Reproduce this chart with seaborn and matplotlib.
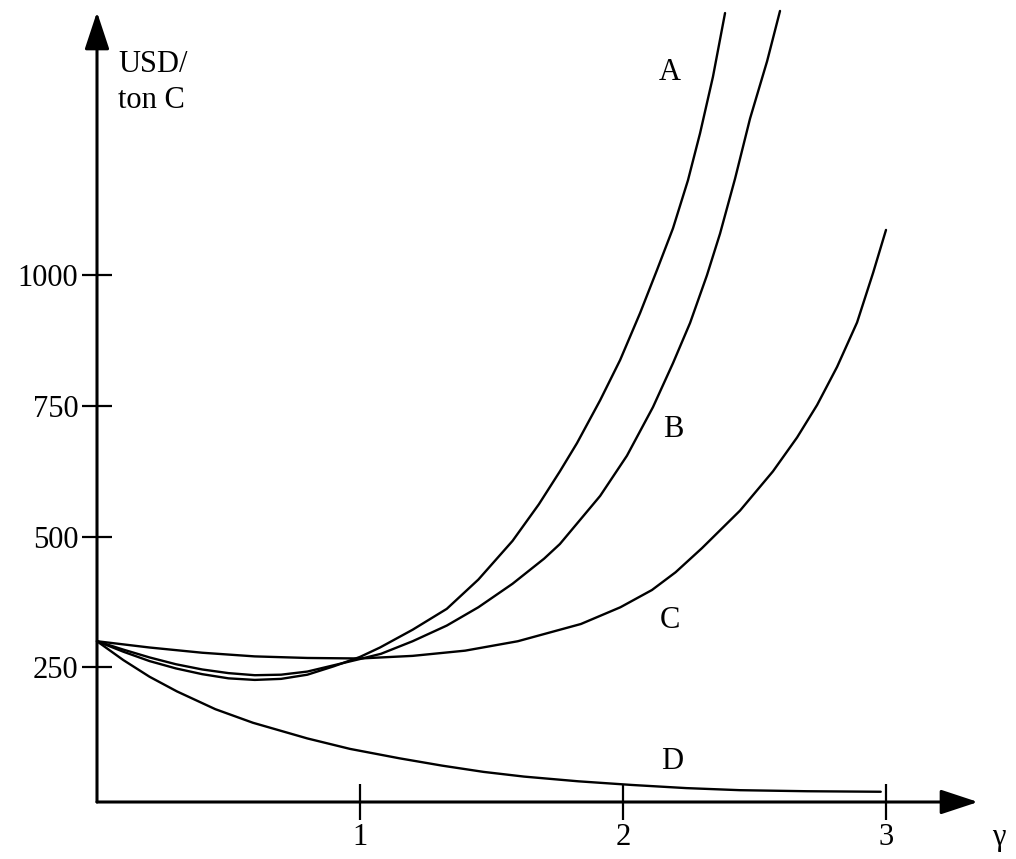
import matplotlib
matplotlib.use("Agg")
import matplotlib.pyplot as plt
import seaborn as sns
import pandas as pd

# ---- data ----
gamma_A = [0, 0.1, 0.2, 0.3, 0.4, 0.5, 0.6, 0.7, 0.8, 0.9, 1.0, 1.076, 1.2, 1.33, 1.45,
           1.58, 1.68, 1.76, 1.825, 1.913, 1.989, 2.065, 2.129, 2.19, 2.247, 2.293,
           2.342, 2.388]
cost_A = [300, 280, 262, 248, 237, 229, 226, 228, 236, 252, 270, 288, 322, 362, 418,
          492, 562, 625, 679, 761, 838, 928, 1010, 1090, 1182, 1272, 1380, 1502]

gamma_B = [0, 0.1, 0.2, 0.3, 0.4, 0.5, 0.6, 0.7, 0.8, 0.9, 1.0, 1.08, 1.2, 1.33, 1.45,
           1.58, 1.7, 1.76, 1.913, 2.015, 2.114, 2.19, 2.255, 2.319, 2.369, 2.426,
           2.483, 2.548, 2.597]
cost_B = [300, 284, 269, 256, 246, 239, 235, 236, 242, 254, 266, 276, 300, 330, 365,
          410, 458, 486, 578, 655, 748, 832, 909, 1000, 1080, 1185, 1300, 1410, 1506]

gamma_C = [0, 0.2, 0.4, 0.6, 0.8, 1.0, 1.2, 1.4, 1.6, 1.84, 1.99, 2.11, 2.2, 2.3,
           2.445, 2.57, 2.662, 2.738, 2.814, 2.89, 2.951, 3.0]
cost_C = [300, 288, 278, 271, 268, 267, 272, 282, 300, 333, 365, 398, 432, 478,
          550, 625, 690, 752, 825, 910, 1005, 1087]

gamma_D = [0, 0.1, 0.2, 0.304, 0.45, 0.593, 0.8, 0.962, 1.15, 1.312, 1.47, 1.624, 1.83,
           2.034, 2.24, 2.445, 2.7, 2.98]
cost_D = [300, 264, 232, 204, 170, 144, 114, 94, 76, 62, 50, 41, 32,
          25, 19, 15, 13, 12]

y_ticks = [250, 500, 750, 1000]
x_ticks = [1, 2, 3]
curve_names = ["A", "B", "C", "D"]

df = pd.concat([
    pd.DataFrame({"gamma": gamma_A, "cost": cost_A, "curve": "A"}),
    pd.DataFrame({"gamma": gamma_B, "cost": cost_B, "curve": "B"}),
    pd.DataFrame({"gamma": gamma_C, "cost": cost_C, "curve": "C"}),
    pd.DataFrame({"gamma": gamma_D, "cost": cost_D, "curve": "D"}),
], ignore_index=True)

sns.set_theme(style="white")
plt.rcParams["font.family"] = ["Liberation Serif", "DejaVu Serif"]
plt.rcParams["text.color"] = "black"
plt.rcParams["xtick.color"] = "black"
plt.rcParams["ytick.color"] = "black"

fig = plt.figure(figsize=(10.16, 8.59), dpi=100)
ax = fig.add_axes([97 / 1016, 1 - 802 / 859, (978 - 97) / 1016, (802 - 12) / 859])

sns.lineplot(data=df, x="gamma", y="cost", hue="curve", units="curve", estimator=None,
             palette={c: "black" for c in curve_names}, linewidth=1.7, legend=False,
             sort=False, ax=ax)
for ln in ax.get_lines():
    ln.set_clip_on(False)
    ln.set_solid_joinstyle("round")

ax.set_xlim(0, (978 - 97) / 263)
ax.set_ylim(-7.6, 1504)
for s in ax.spines.values():
    s.set_visible(False)

ax.set_xticks(x_ticks)
ax.set_xticklabels([str(t) for t in x_ticks])
ax.set_yticks(y_ticks)
ax.set_yticklabels([str(t) for t in y_ticks])
ax.tick_params(axis="y", direction="inout", length=21, width=1.6, pad=3,
               labelsize=22, colors="black", left=True)
ax.tick_params(axis="x", direction="inout", length=26, width=1.6, pad=2,
               labelsize=22, colors="black", bottom=True)
ax.set_xlabel("")
ax.set_ylabel("")

arrow = dict(arrowstyle="-|>,head_length=1.15,head_width=0.38", color="black",
             lw=2.2, shrinkA=0, shrinkB=0, mutation_scale=20)
ax.annotate("", xy=(0, 1), xytext=(0, 0), xycoords="axes fraction",
            textcoords="axes fraction", arrowprops=arrow, annotation_clip=False)
ax.annotate("", xy=(1, 0), xytext=(0, 0), xycoords="axes fraction",
            textcoords="axes fraction", arrowprops=arrow, annotation_clip=False)

ax.text(0.08, 1389, "USD/", fontsize=22, ha="left", va="baseline")
ax.text(0.08, 1320, "ton C", fontsize=22, ha="left", va="baseline")
ax.text(3.43, -76, "γ", fontsize=22, ha="center", va="center", clip_on=False)

label_pos = {"A": (2.179, 1389), "B": (2.19, 705), "C": (2.18, 340), "D": (2.186, 69)}
for name in curve_names:
    gx, gy = label_pos[name]
    ax.text(gx, gy, name, fontsize=22, ha="center", va="center")

fig.savefig("out.png", dpi=100, facecolor="white")
